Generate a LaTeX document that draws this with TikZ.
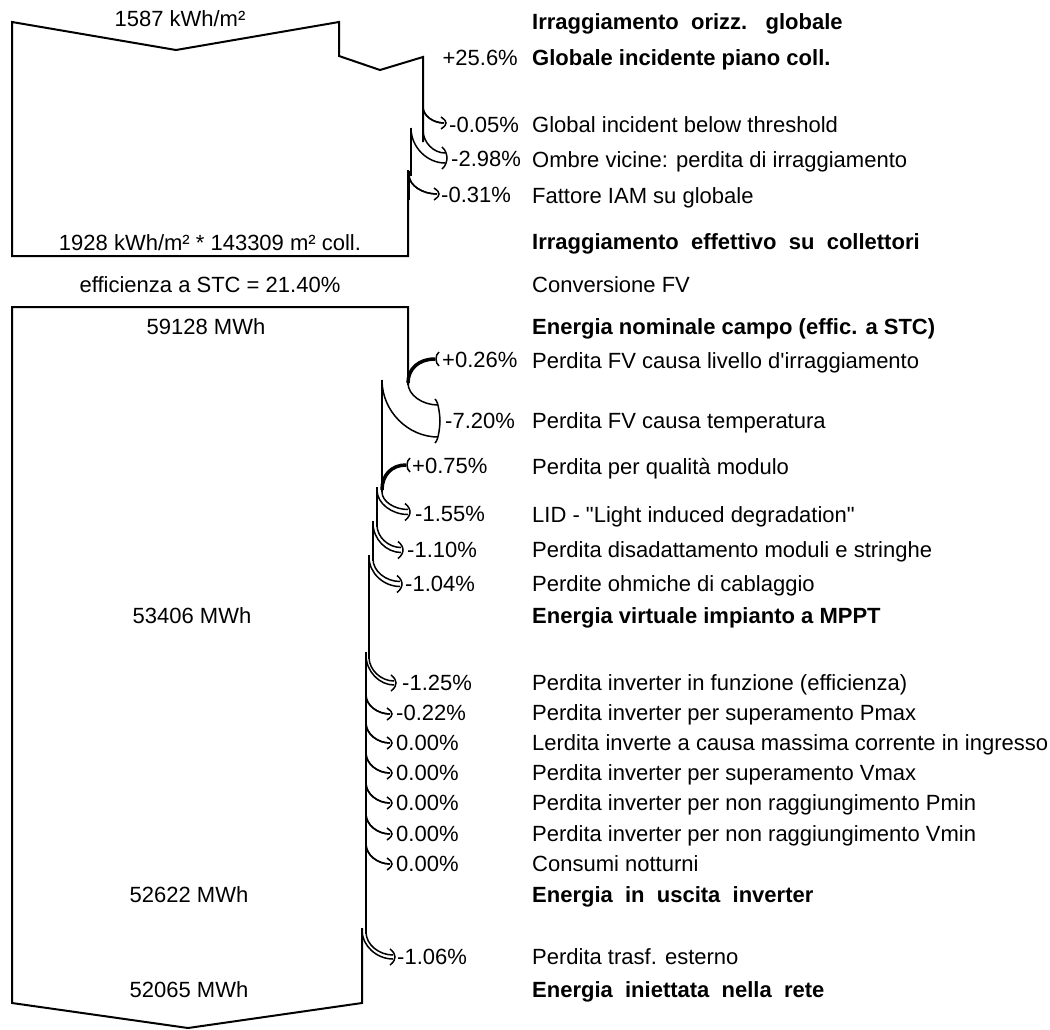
\documentclass[tikz,border=0pt]{standalone}
\usepackage{fontspec}
\newfontfamily\arial{Liberation Sans}
\tikzset{
  outl/.style={line width=2pt, line join=miter},
  crv/.style={line width=1.5pt},
  gainln/.style={line width=3.5pt},
  txt/.style={font=\arial\fontsize{22}{26}\selectfont, inner sep=0pt, anchor=base west},
  txb/.style={txt, font=\arial\fontsize{22}{26}\selectfont\bfseries},
  pct/.style={txt},
  val/.style={font=\arial\fontsize{22}{26}\selectfont, inner sep=0pt, anchor=base}
}
% loss band: xo yo xi yi tx ty hw
\newcommand\band[7]{%
  \draw[crv] (#1,#2) .. controls (#1,{#2+0.55*(#6-#7-#2)}) and ({#1+0.45*(#5-#1)},{#6-#7}) .. ({#5-2},{#6-#7});
  \draw[crv] (#3,#4) .. controls (#3,{#4+0.55*(#6+#7-#4)}) and ({#3+0.45*(#5-#3)},{#6+#7}) .. ({#5-2},{#6+#7});
  \draw[crv] ({#5-5},{#6-#7-6}) .. controls ({#5-1},{#6-#7-3}) and (#5,{#6-2}) .. (#5,#6) .. controls (#5,{#6+2}) and ({#5-1},{#6+#7+3}) .. ({#5-5},{#6+#7+6});
}
\newcommand\single[4]{\band{#1}{#2}{#1}{#2}{#3}{#4}{0}}
% gain: x0 y0 tx ty
\newcommand\gain[4]{%
  \draw[gainln] (#1,#2) .. controls (#1,{#2-0.6*(#2-#4)}) and ({#1+0.4*(#3-#1)},#4) .. (#3,#4);
  \draw[crv] ({#3+4},{#4-7}) .. controls (#3,{#4-4}) and (#3,{#4+4}) .. ({#3+4},{#4+7});
}
\begin{document}
\begin{tikzpicture}[x=1pt,y=-1pt]
\useasboundingbox (0,0) rectangle (1050,1029);

% ---------- top section ----------
\draw[outl] (423,142) -- (423,57) -- (380,70) -- (339,56) -- (339,22) -- (176,50) -- (12,22) -- (12,256) -- (408,256) -- (408,170);
\draw[outl] (411,128) -- (411,176);
\draw[line width=3pt] (408,171) -- (408,200);
\single{423}{107}{446}{123}
\band{423}{130}{411}{128}{447}{158}{5}
\single{409}{175}{439}{194}

% ---------- main section ----------
\draw[outl] (408,385) -- (408,307) -- (12,307) -- (12,1003) -- (188,1028) -- (362,1003) -- (362,928);
\draw[outl] (382,380) -- (382,492);
\draw[outl] (377,487) -- (377,527);
\draw[outl] (373,521) -- (373,561);
\draw[outl] (369,555) -- (369,659);
\draw[outl] (366,652) -- (366,934);
\gain{408}{383}{435}{359}
\band{408}{383}{382}{380}{440}{421}{16}
\gain{382}{490}{406}{465}
\band{382}{492}{377}{490}{410}{512}{2.5}
\band{377}{525}{373}{523}{403}{550}{2.5}
\band{373}{559}{369}{557}{402}{584}{2.5}
\band{369}{657}{366}{655}{396}{683}{2}
\single{366}{695}{392}{714}
\single{366}{723}{392}{743}
\single{366}{753}{392}{773}
\single{366}{783}{392}{803}
\single{366}{814}{392}{834}
\single{366}{844}{392}{864}
\band{366}{932}{362}{930}{395}{957}{2}

% ---------- left values ----------
\node[val] (v1) at (180,26) {1587 kWh/m²};
\node[val] (v2) at (210,250) {1928 kWh/m² * 143309 m² coll.};
\node[val] (v3) at (210,292.5) {efficienza a STC = 21.40\%};
\node[val] (v4) at (206,334.5) {59128 MWh};
\node[val] (v5) at (192,623.5) {53406 MWh};
\node[val] (v6) at (189,902.5) {52622 MWh};
\node[val] (v7) at (189,997.5) {52065 MWh};

% ---------- percentages ----------
\node[pct, anchor=base east] (p1) at (518,65.5) {+25.6\%};
\node[pct] (p2) at (449,132.5) {-0.05\%};
\node[pct] (p3) at (451,166.5) {-2.98\%};
\node[pct] (p4) at (441,202.5) {-0.31\%};
\node[pct] (p5) at (442,367.5) {+0.26\%};
\node[pct] (p6) at (445,428.5) {-7.20\%};
\node[pct] (p7) at (412,473.5) {+0.75\%};
\node[pct] (p8) at (415,521.5) {-1.55\%};
\node[pct] (p9) at (407,557.5) {-1.10\%};
\node[pct] (p10) at (405,591.5) {-1.04\%};
\node[pct] (p11) at (402,690.5) {-1.25\%};
\node[pct] (p12) at (396,720.5) {-0.22\%};
\node[pct] (p13) at (396,750.5) {0.00\%};
\node[pct] (p14) at (396,780.5) {0.00\%};
\node[pct] (p15) at (396,810.5) {0.00\%};
\node[pct] (p16) at (396,841.5) {0.00\%};
\node[pct] (p17) at (396,871.5) {0.00\%};
\node[pct] (p18) at (397,964.5) {-1.06\%};

% ---------- descriptions ----------
\node[txb] (d1) at (532,29.5) {Irraggiamento\ \ orizz.\ \ \ globale};
\node[txb] (d2) at (532,65.5) {Globale\ incidente\ piano\ coll.};
\node[txt] (d3) at (532,132.5) {Global incident below threshold};
\node[txt] (d4) at (532,167.5) {Ombre vicine: perdita di irraggiamento};
\node[txt] (d5) at (532,203.5) {Fattore IAM su globale};
\node[txb] (d6) at (532,249.5) {Irraggiamento\ \ effettivo\ \ su\ \ collettori};
\node[txt] (d7) at (532,292.5) {Conversione FV};
\node[txb] (d8) at (532,334.5) {Energia nominale campo (effic. a STC)};
\node[txt] (d9) at (532,368.5) {Perdita FV causa livello d'irraggiamento};
\node[txt] (d10) at (532,428.5) {Perdita FV causa temperatura};
\node[txt] (d11) at (532,474.5) {Perdita per qualità modulo};
\node[txt] (d12) at (532,522.5) {LID - "Light induced degradation"};
\node[txt] (d13) at (532,557.5) {Perdita disadattamento moduli e stringhe};
\node[txt] (d14) at (532,591.5) {Perdite ohmiche di cablaggio};
\node[txb] (d15) at (532,623.5) {Energia virtuale impianto a MPPT};
\node[txt] (d16) at (532,690.5) {Perdita inverter in funzione (efficienza)};
\node[txt] (d17) at (532,720.5) {Perdita inverter per superamento Pmax};
\node[txt] (d18) at (532,750.5) {Lerdita inverte a causa massima corrente in ingresso};
\node[txt] (d19) at (532,780.5) {Perdita inverter per superamento Vmax};
\node[txt] (d20) at (532,810.5) {Perdita inverter per non raggiungimento Pmin};
\node[txt] (d21) at (532,841.5) {Perdita inverter per non raggiungimento Vmin};
\node[txt] (d22) at (532,871.5) {Consumi notturni};
\node[txb] (d23) at (532,902.5) {Energia\ \ in\ \ uscita\ \ inverter};
\node[txt] (d24) at (532,964.5) {Perdita trasf. esterno};
\node[txb] (d25) at (532,997.5) {Energia\ \ iniettata\ \ nella\ \ rete};
\end{tikzpicture}
\end{document}
